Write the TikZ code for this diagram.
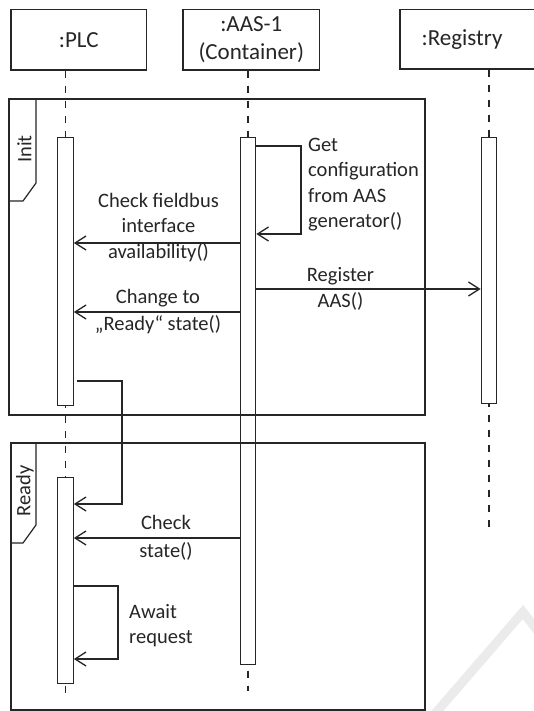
\documentclass[tikz,border=0pt]{standalone}
\usepackage{fontspec}
\setmainfont{Carlito}
\usetikzlibrary{arrows.meta}
\definecolor{ink}{HTML}{262626}
\definecolor{wmark}{HTML}{EBEBEB}
\begin{document}
\begin{tikzpicture}[x=1pt,y=-1pt,
  color=ink,
  headbox/.style={draw=ink, line width=1.2pt, minimum height=60.7pt, inner sep=0pt, align=center, font=\fontsize{23}{28}\selectfont},
  lifeline/.style={draw=ink, line width=1.2pt, dash pattern=on 7.5pt off 7.5pt},
  actbar/.style={draw=ink, fill=white, line width=1.2pt, minimum width=15.5pt, inner sep=0pt, anchor=north},
  framebox/.style={draw=ink, line width=1.2pt},
  msg/.style={draw=ink, line width=1.2pt, -{Straight Barb[length=11pt,width=14pt,line width=1.3pt]}},
  lbl/.style={inner sep=0pt, align=center, font=\fontsize{20.5}{25.5}\selectfont},
  lbll/.style={inner sep=0pt, align=left, anchor=west, font=\fontsize{20.5}{25.5}\selectfont},
  tablbl/.style={inner sep=0pt, rotate=90, font=\fontsize{20.5}{25.5}\selectfont},
]
\path[use as bounding box, clip] (0,0) rectangle (534,711);
\fill[white] (0,0) rectangle (534,711);

% watermark
\draw[wmark, line width=9pt] (433,716) -- (523,612) -- (540,634);

% heads
\node[headbox, minimum width=135.7pt] (plc) at (78.8,39.7) {:PLC};
\node[headbox, minimum width=136.5pt] (aas) at (251.25,39.7) {:AAS-1\\(Container)};
\node[headbox, minimum width=145pt, minimum height=59.7pt] (reg) at (472.5,39.2) {};
\node[inner sep=0pt, font=\fontsize{23}{28}\selectfont] (regname) at (462,39.5) {:Registry};

% lifeline anchors
\coordinate (plcTop) at (65.5,137);
\coordinate (aasTop) at (248,137);
\coordinate (regTop) at (489,137);
\coordinate (plcTopB) at (65.5,477);
\coordinate (plcEnd) at (65.5,698);
\coordinate (aasEnd) at (248,691);
\coordinate (regEnd) at (489,531);

% lifelines
\draw[lifeline] (plc.south -| plcTop) -- (plcEnd);
\draw[lifeline] (aas.south -| aasTop) -- (aasEnd);
\draw[lifeline] (reg.south -| regTop) -- (regEnd);

% activation bars
\node[actbar, minimum height=268pt] (plcA) at (plcTop) {};
\node[actbar, minimum height=527pt] (aasA) at (aasTop) {};
\node[actbar, minimum height=266pt] (regA) at (regTop) {};
\node[actbar, minimum height=206pt] (plcB) at (plcTopB) {};

% frames
\draw[framebox] (9,99) rectangle (425,415);
\draw[framebox] (36,99) -- (36,183) -- (23,201) -- (9,201);
\node[tablbl] (initlbl) at (24.5,149) {Init};
\draw[framebox] (11,443) rectangle (425,710);
\draw[framebox] (36,443) -- (36,525) -- (23,543) -- (11,543);
\node[tablbl] (readylbl) at (25,491) {Ready};

% message levels
\coordinate (s1) at (301,146);
\coordinate (s2) at (301,234);
\coordinate (m1) at (0,243);
\coordinate (m2) at (0,289);
\coordinate (m3) at (0,312);
\coordinate (t0) at (77,381);
\coordinate (t1) at (122,381);
\coordinate (t2) at (122,504);
\coordinate (m4) at (0,538);
\coordinate (w1) at (118,586);
\coordinate (w2) at (118,659);

% messages
\draw[msg] (aasA.east |- s1) -- (s1) -- (s2) -- (aasA.east |- s2);
\draw[msg] (aasA.west |- m1) -- (plcA.east |- m1);
\draw[msg] (aasA.east |- m2) -- (regA.west |- m2);
\draw[msg] (aasA.west |- m3) -- (plcA.east |- m3);
\draw[msg] (t0) -- (t1) -- (t2) -- (plcB.east |- t2);
\draw[msg] (aasA.west |- m4) -- (plcB.east |- m4);
\draw[msg] (plcB.east |- w1) -- (w1) -- (w2) -- (plcB.east |- w2);

% labels
\node[lbll] (l1) at (308,184.5) {Get\\configuration\\from AAS\\generator()};
\node[lbl] (l2) at (158.5,227.5) {Check fieldbus\\interface\\availability()};
\node[lbl] (l3) at (340.5,289) {Register\\AAS()};
\node[lbl] (l4) at (158,311.5) {Change to\\[1.5pt]„Ready“ state()};
\node[lbl] (l5) at (166,538) {Check\\[2.5pt]state()};
\node[lbll] (l6) at (129,625.5) {Await\\request};
\end{tikzpicture}
\end{document}
